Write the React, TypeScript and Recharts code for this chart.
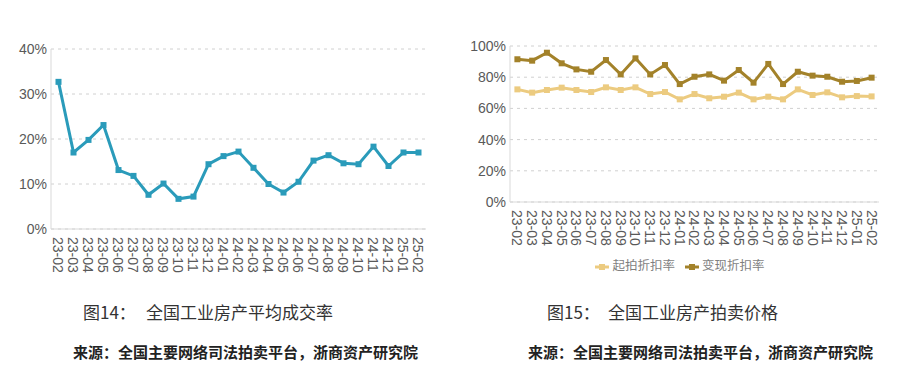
import { LineChart, Line, XAxis, YAxis, CartesianGrid } from "recharts";

// 23-02 .. 25-02, monthly
const months = [
  "23-02", "23-03", "23-04", "23-05", "23-06", "23-07", "23-08", "23-09", "23-10", "23-11", "23-12",
  "24-01", "24-02", "24-03", "24-04", "24-05", "24-06", "24-07", "24-08", "24-09", "24-10", "24-11", "24-12",
  "25-01", "25-02",
];

// 图14 平均成交率 (%)
const dealRate = [
  32.7, 17.0, 19.8, 23.1, 13.1, 11.8, 7.6, 10.1, 6.7, 7.2, 14.4,
  16.2, 17.2, 13.6, 10.0, 8.1, 10.5, 15.2, 16.4, 14.6, 14.4, 18.3, 14.0,
  17.0, 17.0,
];

// 图15 起拍折扣率 / 变现折扣率 (%)
const startDiscount = [
  72.2, 70.1, 71.8, 73.3, 71.8, 70.5, 73.5, 71.8, 73.5, 69.2, 70.5,
  65.8, 69.2, 66.5, 67.5, 70.1, 65.8, 67.5, 65.8, 72.2, 68.6, 70.3, 67.1,
  67.9, 67.7,
];
const realizeDiscount = [
  91.5, 90.6, 95.7, 88.9, 85.0, 83.5, 91.0, 81.8, 92.1, 81.8, 87.8,
  75.6, 80.3, 81.8, 77.8, 84.6, 76.5, 88.5, 75.6, 83.5, 81.0, 80.3, 77.1,
  77.6, 79.7,
];

const leftTicks = [0, 10, 20, 30, 40];
const rightTicks = [0, 20, 40, 60, 80, 100];

const TEAL = "#2a9bba";
const GOLD_DARK = "#a3822a";
const GOLD_LIGHT = "#eccb80";
const AXIS = "#d9d9d9";
const TICK_FONT = "'Liberation Sans Narrow', 'Liberation Sans', Arial, sans-serif";
const CJK = "'Noto Sans CJK SC', sans-serif";

const leftRows = months.map((m, i) => ({ m, v: dealRate[i] }));
const rightRows = months.map((m, i) => ({ m, a: startDiscount[i], b: realizeDiscount[i] }));

const MonthTick = ({ x, y, payload }: any) => (
  <text
    x={0} y={0} transform={`translate(${x},${y}) rotate(90)`} textAnchor="start" dy="0.36em"
    fontSize={14} fontFamily={TICK_FONT} fill="#595959"
  >
    {payload.value}
  </text>
);

const squareDot = (color: string, size: number) => (p: any) => {
  if (p.cx == null || p.cy == null) return <g key={p.index} />;
  return <rect key={p.index} x={p.cx - size / 2} y={p.cy - size / 2} width={size} height={size} fill={color} />;
};

const yTick = { fontSize: 14, fontFamily: TICK_FONT, fill: "#595959" };

function LegendMark({ color }: { color: string }) {
  return (
    <svg width={14} height={10} style={{ verticalAlign: "middle", marginRight: 3 }}>
      <line x1={0} y1={5} x2={14} y2={5} stroke={color} strokeWidth={3} />
      <rect x={4} y={2} width={6} height={6} fill={color} />
    </svg>
  );
}

const textAt = (left: number, top: number, size: number, weight: number, color: string) => ({
  position: "absolute" as const, left, top, fontSize: size, lineHeight: `${size}px`,
  fontWeight: weight, color, whiteSpace: "nowrap" as const, fontFamily: CJK,
});

export default function App() {
  return (
    <div style={{ position: "absolute", left: 0, top: 0, width: 900, height: 379, background: "#fff", overflow: "hidden" }}>
      <div style={{ position: "absolute", left: 0, top: 0 }}>
        <LineChart width={450} height={279} data={leftRows} margin={{ top: 49, right: 24, bottom: 0, left: 0 }}>
          <CartesianGrid vertical={false} stroke="#d0d0d0" strokeDasharray="3 4" />
          <XAxis
            dataKey="m" interval={0} height={50} tick={<MonthTick />} tickLine={false}
            tickSize={0} tickMargin={8} axisLine={{ stroke: AXIS }} padding={{ left: 7.5, right: 7.5 }}
          />
          <YAxis
            width={51} domain={[0, 40]} ticks={leftTicks} tickFormatter={(v) => `${v}%`}
            tick={yTick} tickLine={false} tickSize={4} tickMargin={0} axisLine={{ stroke: AXIS }}
          />
          <Line
            dataKey="v" stroke={TEAL} strokeWidth={3} dot={squareDot(TEAL, 6)} activeDot={false}
            isAnimationActive={false}
          />
        </LineChart>
      </div>

      <div style={{ position: "absolute", left: 460, top: 0 }}>
        <LineChart width={440} height={252} data={rightRows} margin={{ top: 46, right: 21, bottom: 0, left: 0 }}>
          <CartesianGrid vertical={false} stroke="#d0d0d0" strokeDasharray="3 4" />
          <XAxis
            dataKey="m" interval={0} height={50} tick={<MonthTick />} tickLine={false}
            tickSize={0} tickMargin={8} axisLine={{ stroke: AXIS }} padding={{ left: 7.4, right: 7.4 }}
          />
          <YAxis
            width={50} domain={[0, 100]} ticks={rightTicks} tickFormatter={(v) => `${v}%`}
            tick={yTick} tickLine={false} tickSize={4} tickMargin={0} axisLine={{ stroke: AXIS }}
          />
          <Line
            dataKey="a" name="起拍折扣率" stroke={GOLD_LIGHT} strokeWidth={3} dot={squareDot(GOLD_LIGHT, 6)}
            activeDot={false} isAnimationActive={false}
          />
          <Line
            dataKey="b" name="变现折扣率" stroke={GOLD_DARK} strokeWidth={3} dot={squareDot(GOLD_DARK, 6)}
            activeDot={false} isAnimationActive={false}
          />
        </LineChart>
      </div>

      <div
        style={{
          position: "absolute", left: 460, top: 257, width: 440, display: "flex", justifyContent: "center",
          fontSize: 12.5, lineHeight: "16px", fontFamily: CJK, color: "#7f7f7f",
        }}
      >
        <span style={{ marginRight: 10 }}><LegendMark color={GOLD_LIGHT} />起拍折扣率</span>
        <span><LegendMark color={GOLD_DARK} />变现折扣率</span>
      </div>

      <div style={textAt(83, 303, 17, 400, "#333")}>图14：</div>
      <div style={textAt(146, 303, 17, 400, "#333")}>全国工业房产平均成交率</div>
      <div style={textAt(73, 344, 15, 600, "#222")}>来源：全国主要网络司法拍卖平台，浙商资产研究院</div>

      <div style={textAt(547, 303, 17, 400, "#333")}>图15：</div>
      <div style={textAt(608, 303, 17, 400, "#333")}>全国工业房产拍卖价格</div>
      <div style={textAt(528, 344, 15, 600, "#222")}>来源：全国主要网络司法拍卖平台，浙商资产研究院</div>
    </div>
  );
}
